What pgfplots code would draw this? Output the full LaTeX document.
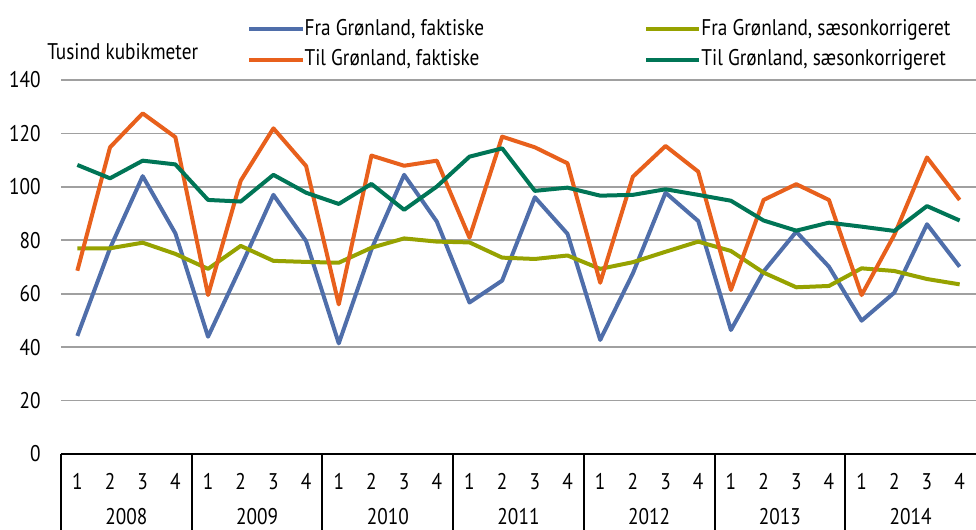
\documentclass[border=0pt]{standalone}
\usepackage{fontspec}
\setmainfont{PT Sans}[FakeStretch=0.85]
\usepackage{pgfplots}
\usepackage{pgfplotstable}
\pgfplotsset{compat=1.18}
\definecolor{cblue}{RGB}{79,110,170}
\definecolor{corange}{RGB}{232,96,28}
\definecolor{colive}{RGB}{150,162,0}
\definecolor{cgreen}{RGB}{0,117,86}
\definecolor{cgrid}{RGB}{160,160,160}
\pgfplotstableread{
idx fraF tilF fraS tilS
0 44.2 68.6 77.0 108.2
1 77.0 114.8 77.0 103.2
2 104.0 127.5 79.1 109.8
3 82.6 118.6 74.9 108.4
4 43.9 59.5 69.3 95.1
5 70.0 102.3 77.9 94.5
6 97.0 121.9 72.3 104.5
7 79.7 107.8 71.9 97.8
8 41.4 56.0 71.6 93.6
9 76.6 111.7 77.2 101.1
10 104.5 107.9 80.7 91.4
11 87.0 109.8 79.5 100.1
12 56.7 81.0 79.2 111.3
13 64.9 118.8 73.5 114.4
14 96.1 114.8 73.0 98.5
15 82.4 108.8 74.3 99.7
16 42.7 64.1 69.3 96.7
17 67.6 103.8 71.8 97.0
18 97.8 115.3 75.7 99.1
19 87.2 105.7 79.5 97.0
20 46.4 61.4 76.0 94.8
21 68.3 95.1 67.9 87.4
22 83.2 101.0 62.4 83.6
23 70.1 95.1 62.9 86.6
24 49.9 59.5 69.5 85.1
25 60.4 82.0 68.5 83.5
26 86.0 111.0 65.5 92.8
27 70.1 95.1 63.5 87.4
}\datatable
\begin{document}
\fontsize{17}{20}\selectfont
\begin{tikzpicture}
\useasboundingbox (-45.75pt,-57pt) rectangle (686.25pt,340.5pt);
\begin{axis}[
  scale only axis, width=686.25pt, height=280.5pt,
  at={(0pt,0pt)}, anchor=south west,
  xmin=-0.5, xmax=27.5, ymin=0, ymax=140,
  ytick={0,20,...,140},
  xtick={0,...,27},
  xticklabels={1,2,3,4,1,2,3,4,1,2,3,4,1,2,3,4,1,2,3,4,1,2,3,4,1,2,3,4},
  xticklabel style={anchor=center, yshift=-20.6pt, inner sep=0pt},
  yticklabel style={anchor=east, inner sep=0pt, xshift=-15pt},
  /pgf/number format/assume math mode=true,
  major tick length=0pt,
  ymajorgrids, grid style={cgrid, line width=1.3pt},
  axis x line*=bottom, axis y line*=left,
  x axis line style={black, line width=1.5pt, -},
  y axis line style={draw=none},
  clip=false,
  legend columns=2,
  legend cell align=left,
  legend image code/.code={\draw[#1] (0pt,0pt) -- (40pt,0pt);},
  legend style={draw=none, fill=none, inner sep=0pt, row sep=8pt,
    at={(axis description cs:0,1)}, anchor=north west, xshift=139.5pt, yshift=45.5pt,
    nodes={inner sep=0pt, xshift=3pt},
    /tikz/every even column/.append style={column sep=120pt}},
  every axis plot/.append style={line width=3pt, line join=round},
]
\addplot[cblue] table[x=idx, y=fraF] {\datatable};
\addlegendentry{Fra Grønland, faktiske}
\addplot[colive] table[x=idx, y=fraS] {\datatable};
\addlegendentry{Fra Grønland, sæsonkorrigeret}
\addplot[corange] table[x=idx, y=tilF] {\datatable};
\addlegendentry{Til Grønland, faktiske}
\addplot[cgreen] table[x=idx, y=tilS] {\datatable};
\addlegendentry{Til Grønland, sæsonkorrigeret}
\pgfplotsinvokeforeach{0,...,6}{
  \draw[black, line width=1.5pt] (axis cs:{#1*4-0.5},0) -- ++(0pt,-57pt);
  \node[inner sep=0pt] at (axis cs:{#1*4+1.5},0) [yshift=-47.3pt] {\number\numexpr2008+#1\relax};
}
\node[anchor=west, inner sep=0pt] at (axis description cs:0,1) [xshift=-10.5pt, yshift=21pt] {Tusind kubikmeter};
\end{axis}
\end{tikzpicture}
\end{document}
